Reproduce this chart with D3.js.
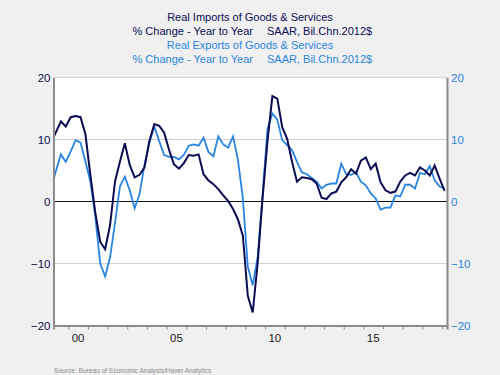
<!DOCTYPE html>
<html>
<head>
<meta charset="utf-8">
<script src="https://cdn.jsdelivr.net/npm/d3@7"></script>
<style>
	body { margin: 0; background: #f0f0f0; }
	svg { display: block; font-family: "Liberation Sans", Arial, sans-serif; }
</style>
</head>
<body>
<div id="container"></div>
<script>
var WIDTH = 500,
	HEIGHT = 375,
	LEFT = 53.5,
	RIGHT = 447,
	TOP = 77.5,
	BOTTOM = 325.5;

var IMPORT_COLOR = '#0c0c52',
	EXPORT_COLOR = '#2a84e0';

// quarterly, 1999Q1 .. 2019Q1
var startYear = 1999;
var imports = [9.4, 11.2, 12.9, 12.1, 13.6, 13.8, 13.6, 10.8, 4.2, -1.8,
	-6.5, -7.7, -3.8, 3.2, 6.4, 9.4, 5.9, 3.9, 4.3, 5.5,
	9.8, 12.5, 12.2, 11.1, 8.3, 6.0, 5.3, 6.2, 7.5, 7.4,
	7.6, 4.4, 3.4, 2.8, 2.0, 1.0, 0.1, -1.2, -2.9, -5.5,
	-15.2, -17.9, -10.0, 0.5, 9.7, 17.0, 16.6, 12.0, 10.1, 6.4,
	3.2, 3.9, 3.8, 3.6, 2.9, 0.6, 0.4, 1.3, 1.6, 3.1,
	3.9, 5.2, 4.5, 6.6, 7.1, 5.2, 6.1, 3.1, 1.8, 1.4,
	1.6, 3.2, 4.2, 4.6, 4.2, 5.5, 5.0, 4.2, 5.8, 3.7, 1.7];
var exports = [2.1, 4.9, 7.6, 6.4, 8.1, 9.9, 9.5, 6.4, 3.2, -2.5,
	-10.0, -12.1, -9.0, -3.5, 2.4, 4.0, 1.8, -1.1, 1.2, 5.9,
	9.5, 12.1, 9.7, 7.5, 7.2, 7.2, 6.8, 7.5, 9.0, 9.2,
	9.0, 10.3, 8.0, 7.3, 10.5, 9.2, 8.7, 10.5, 6.7, 0.5,
	-10.5, -13.5, -9.0, 1.0, 11.7, 14.2, 13.2, 9.9, 9.1, 8.3,
	6.4, 4.7, 4.4, 3.8, 3.2, 2.1, 2.7, 2.9, 2.9, 6.1,
	4.4, 4.3, 4.7, 3.2, 2.6, 1.3, 0.5, -1.3, -1.0, -1.0,
	1.0, 0.8, 2.7, 2.7, 2.1, 4.6, 4.4, 5.7, 3.4, 2.4, 2.1];

var yTicks = [-20, -10, 0, 10, 20];
var gridValues = [-10, 10];
var labelYears = [2000, 2005, 2010, 2015];
var labelText = ['00', '05', '10', '15'];
var minorYears = d3.range(2000, 2020);

var titleLines = [
	{ text: ['Real Imports of Goods & Services'], color: IMPORT_COLOR },
	{ text: ['% Change - Year to Year', 'SAAR, Bil.Chn.2012$'], color: IMPORT_COLOR },
	{ text: ['Real Exports of Goods & Services'], color: EXPORT_COLOR },
	{ text: ['% Change - Year to Year', 'SAAR, Bil.Chn.2012$'], color: EXPORT_COLOR }
];
var sourceText = 'Source:  Bureau of Economic Analysis/Haver Analytics';

var xScale = d3.scaleLinear().domain([1999.25, 2019.25]).range([LEFT, RIGHT]);
var yScale = d3.scaleLinear().domain([-20, 20]).range([BOTTOM, TOP]);

var toPoints = function(values) {
	return values.map(function(v, i) {
		return { t: startYear + 0.125 + i * 0.25, v: v };
	});
};

var translate = function(x, y) {
	return 'translate(' + x + ',' + y + ')';
};

function drawFrame(svg) {
	svg.append('rect')
		.attr('x', LEFT).attr('y', TOP)
		.attr('width', RIGHT - LEFT).attr('height', BOTTOM - TOP)
		.attr('fill', 'white')
		.attr('stroke', '#d4d4d4');
	svg.selectAll('line.grid').data(gridValues).enter()
		.append('line').classed('grid', true)
		.attr('x1', LEFT).attr('x2', RIGHT)
		.attr('y1', function(d) { return yScale(d); })
		.attr('y2', function(d) { return yScale(d); })
		.attr('stroke', '#cfcfcf');
	svg.append('line')
		.attr('x1', LEFT).attr('x2', RIGHT)
		.attr('y1', yScale(0)).attr('y2', yScale(0))
		.attr('stroke', '#111');
}

function drawAxes(svg) {
	var left = d3.axisLeft(yScale).tickValues(yTicks).tickSize(0).tickPadding(3);
	svg.append('g').attr('transform', translate(LEFT, 0)).call(left)
		.call(function(g) {
			g.select('.domain').attr('stroke', '#8c8c8c').attr('stroke-width', 2);
			g.selectAll('text').attr('fill', IMPORT_COLOR).attr('font-size', 11.5);
		});
	var right = d3.axisRight(yScale).tickValues(yTicks).tickSize(0).tickPadding(4);
	svg.append('g').attr('transform', translate(RIGHT, 0)).call(right)
		.call(function(g) {
			g.select('.domain').attr('stroke', '#8c8c8c').attr('stroke-width', 2);
			g.selectAll('text').attr('fill', EXPORT_COLOR).attr('font-size', 11.5);
		});
	var bottom = d3.axisBottom(xScale).tickValues(minorYears).tickSize(4).tickFormat('');
	svg.append('g').attr('transform', translate(0, BOTTOM)).call(bottom)
		.call(function(g) {
			g.select('.domain').attr('stroke', '#8c8c8c').attr('stroke-width', 2);
			g.selectAll('.tick line').attr('stroke', '#8c8c8c');
		});
	svg.selectAll('text.xlab').data(labelYears).enter()
		.append('text').classed('xlab', true)
		.attr('x', function(d) { return xScale(d + 0.5); })
		.attr('y', 342)
		.attr('text-anchor', 'middle')
		.attr('font-size', 11.5)
		.attr('fill', '#1a1a1a')
		.text(function(d, i) { return labelText[i]; });
}

function drawLines(svg) {
	svg.append('clipPath').attr('id', 'plotClip')
		.append('rect')
		.attr('x', LEFT).attr('y', TOP)
		.attr('width', RIGHT - LEFT).attr('height', BOTTOM - TOP);
	var line = d3.line()
		.x(function(d) { return xScale(d.t); })
		.y(function(d) { return yScale(d.v); });
	svg.append('path')
		.attr('d', line(toPoints(exports)))
		.attr('clip-path', 'url(#plotClip)')
		.attr('fill', 'none')
		.attr('stroke', EXPORT_COLOR)
		.attr('stroke-width', 1.8);
	svg.append('path')
		.attr('d', line(toPoints(imports)))
		.attr('clip-path', 'url(#plotClip)')
		.attr('fill', 'none')
		.attr('stroke', IMPORT_COLOR)
		.attr('stroke-width', 2);
}

function drawTitles(svg) {
	titleLines.forEach(function(line, i) {
		var y = 21 + i * 14;
		if (line.text.length === 1) {
			svg.append('text')
				.attr('x', 250).attr('y', y)
				.attr('text-anchor', 'middle')
				.attr('font-size', 11)
				.attr('fill', line.color)
				.text(line.text[0]);
		} else {
			svg.append('text')
				.attr('x', 253).attr('y', y)
				.attr('text-anchor', 'end')
				.attr('font-size', 11)
				.attr('fill', line.color)
				.text(line.text[0]);
			svg.append('text')
				.attr('x', 267).attr('y', y)
				.attr('font-size', 11)
				.attr('fill', line.color)
				.text(line.text[1]);
		}
	});
	svg.append('text')
		.attr('x', 54).attr('y', 373)
		.attr('font-size', 6.6)
		.attr('fill', '#8a8a8a')
		.text(sourceText);
}

function drawChart() {
	var svg = d3.select('#container')
		.append('svg')
		.attr('width', WIDTH)
		.attr('height', HEIGHT);
	svg.append('rect').attr('width', WIDTH).attr('height', HEIGHT).attr('fill', '#f0f0f0');
	drawFrame(svg);
	drawLines(svg);
	drawAxes(svg);
	drawTitles(svg);
}

drawChart();
</script>
</body>
</html>
